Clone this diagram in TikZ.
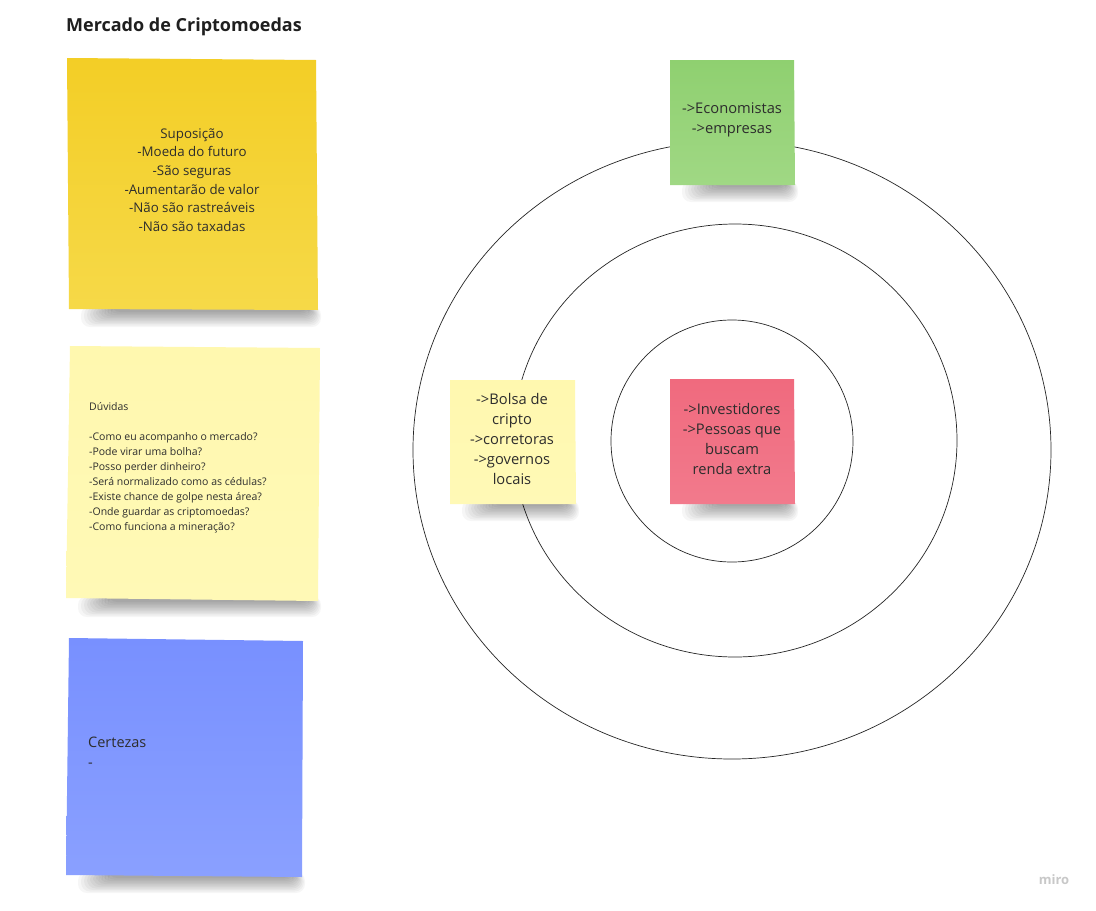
\documentclass[tikz,border=0pt]{standalone}
\usepackage{fontspec}
\setmainfont{Open Sans}
\definecolor{txt}{RGB}{45,45,45}
\definecolor{ydarkT}{RGB}{243,206,38}
\definecolor{ydarkB}{RGB}{246,217,72}
\definecolor{ylightT}{RGB}{255,248,175}
\definecolor{ylightB}{RGB}{255,249,182}
\definecolor{blueT}{RGB}{120,144,255}
\definecolor{blueB}{RGB}{138,160,255}
\definecolor{greenT}{RGB}{143,208,112}
\definecolor{greenB}{RGB}{160,216,132}
\definecolor{pinkT}{RGB}{240,106,126}
\definecolor{pinkB}{RGB}{242,122,140}
\definecolor{mirogray}{RGB}{200,200,200}
\tikzset{
  ring/.style={draw=black!85, line width=0.7pt},
  notetext/.style={text=txt, inner sep=0pt, align=center},
  shadowband/.style={fill=black, opacity=0.035, rounded corners=9pt},
}
\newcommand\mshadow[3]{%
  \foreach \i in {0,...,10}{%
    \fill[shadowband] ({#1+12+3*\i},{#3-4}) rectangle ({#2+3-1.2*\i},{#3+17-1.5*\i});
  }%
}
\begin{document}
\begin{tikzpicture}[x=1pt,y=-1pt]
\useasboundingbox (0,0) rectangle (1096,911);
\fill[white] (0,0) rectangle (1096,911);

% circles
\draw[ring] (732,450) ellipse [x radius=319, y radius=309];
\draw[ring] (735,440.5) ellipse [x radius=222, y radius=216.5];
\draw[ring] (732,441) circle [radius=121];

% shadows
\mshadow{69}{318}{310}
\mshadow{66}{318}{600}
\mshadow{66}{302}{876}
\mshadow{670}{795}{185}
\mshadow{450}{576}{504}
\mshadow{670}{795}{504}

% notes
\shade[top color=ydarkT, bottom color=ydarkB] (67,58) -- (316,60) -- (318,310) -- (69,309) -- cycle;
\shade[top color=ylightT, bottom color=ylightB] (70,346) -- (320,348) -- (318,601) -- (66,598) -- cycle;
\shade[top color=blueT, bottom color=blueB] (69,638) -- (303,641) -- (302,877) -- (66,875) -- cycle;
\shade[top color=greenT, bottom color=greenB] (670,60) -- (794,60) -- (795,185) -- (670,185) -- cycle;
\shade[top color=ylightT, bottom color=ylightB] (450,380) -- (575,380) -- (576,504) -- (450,504) -- cycle;
\shade[top color=pinkT, bottom color=pinkB] (670,379) -- (794,379) -- (795,504) -- (670,504) -- cycle;

% texts
\node[anchor=west, inner sep=0pt, text=black!88, font=\fontsize{18}{22}\selectfont\bfseries] (title) at (66,27) {Mercado de Criptomoedas};

\node[notetext, font=\fontsize{13.3}{18.6}\selectfont] (sup) at (192,180)
  {Suposição\\-Moeda do futuro\\-São seguras\\-Aumentarão de valor\\-Não são rastreáveis\\-Não são taxadas};

\node[notetext, align=left, anchor=west, font=\fontsize{10.5}{15}\selectfont] (duv) at (89,468)
  {Dúvidas\\[15pt]-Como eu acompanho o mercado?\\-Pode virar uma bolha?\\-Posso perder dinheiro?\\-Será normalizado como as cédulas?\\-Existe chance de golpe nesta área?\\-Onde guardar as criptomoedas?\\-Como funciona a mineração?};

\node[notetext, align=left, anchor=west, font=\fontsize{14.5}{20}\selectfont] (cert) at (88,752)
  {Certezas\\-};

\node[notetext, font=\fontsize{14.7}{20}\selectfont] (eco) at (732,120)
  {->Economistas\\->empresas};

\node[notetext, font=\fontsize{14.7}{20}\selectfont] (bolsa) at (512,439)
  {->Bolsa de\\cripto\\->corretoras\\->governos\\locais};

\node[notetext, font=\fontsize{14.7}{20}\selectfont] (inv) at (732,439)
  {->Investidores\\->Pessoas que\\buscam\\renda extra};

\node[inner sep=0pt, text=mirogray, font=\fontsize{13}{15}\selectfont\bfseries] (miro) at (1054,880) {miro};
\end{tikzpicture}
\end{document}
